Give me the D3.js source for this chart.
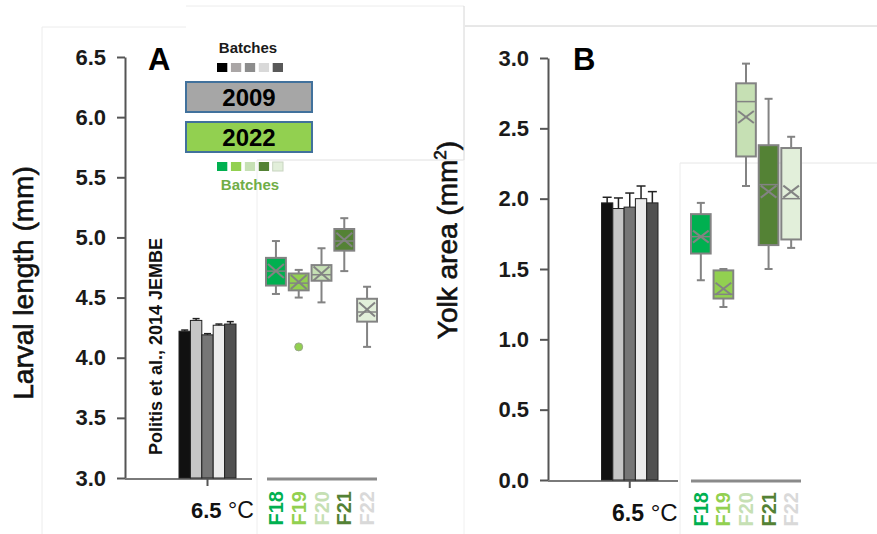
<!DOCTYPE html>
<html>
<head>
<meta charset="utf-8">
<script src="https://cdn.jsdelivr.net/npm/d3@7"></script>
<style>
  body { margin: 0; background: #fff; }
  svg { display: block; font-family: "Liberation Sans", Arial, sans-serif; }
</style>
</head>
<body>
<div id="chart-area"></div>
<script>
// --- data -----------------------------------------------------------------
const batches = ['B1', 'B2', 'B3', 'B4', 'B5'];
const batchColors = ['#111111', '#c6c6c6', '#767676', '#ececec', '#515151'];
const batchLegend = ['#000000', '#aaa6a6', '#8c8c8c', '#d9d9d9', '#595959'];

const gens = ['F18', 'F19', 'F20', 'F21', 'F22'];
const genFill = ['#00b050', '#92d050', '#c6e0b4', '#548235', '#e2efda'];
const genText = ['#00b050', '#92d050', '#c6e0b4', '#548235', '#d9d9d9'];

// panel A : larval length (mm)
const lenTicks = [3.0, 3.5, 4.0, 4.5, 5.0, 5.5, 6.0, 6.5];
const lenBars = [4.22, 4.31, 4.19, 4.27, 4.28];
const lenBarErr = [0.01, 0.015, 0.01, 0.01, 0.02];
const lenMin = [4.53, 4.50, 4.46, 4.72, 4.09];
const lenQ1 = [4.60, 4.56, 4.64, 4.89, 4.30];
const lenMed = [4.72, 4.62, 4.69, 4.97, 4.38];
const lenQ3 = [4.83, 4.70, 4.77, 5.07, 4.49];
const lenMax = [4.97, 4.73, 4.91, 5.16, 4.59];
const lenMean = [4.72, 4.63, 4.70, 4.98, 4.40];
const lenOutliers = [{ gen: 'F19', value: 4.09 }];

// panel B : yolk area (mm2)
const yolkTicks = [0.0, 0.5, 1.0, 1.5, 2.0, 2.5, 3.0];
const yolkBars = [1.97, 1.93, 1.94, 2.00, 1.97];
const yolkBarErr = [0.04, 0.075, 0.10, 0.09, 0.08];
const yolkMin = [1.42, 1.23, 2.09, 1.50, 1.65];
const yolkQ1 = [1.61, 1.29, 2.30, 1.67, 1.71];
const yolkMed = [1.73, 1.32, 2.69, 2.10, 2.00];
const yolkQ3 = [1.89, 1.49, 2.82, 2.38, 2.36];
const yolkMax = [1.97, 1.50, 2.96, 2.71, 2.44];
const yolkMean = [1.73, 1.36, 2.58, 2.05, 2.05];

const w = 877;
const h = 534;

const svg = d3.select('#chart-area')
  .append('svg')
  .attr('width', w)
  .attr('height', h);

// faint frames left over from the pasted screenshots
const frames = [
  [42, 27, 42, 534, '#ececec'], [42, 27, 186, 27, '#ececec'],
  [186, 6, 464, 6, '#ececec'], [464, 6, 464, 160, '#d6d6d6'],
  [257, 160, 464, 160, '#e0e0e0'], [257, 160, 257, 534, '#eeeeee'],
  [464, 160, 464, 534, '#f0f0f0'],
  [465, 26, 877, 26, '#d0d0d0'], [680, 163, 877, 163, '#e6e6e6'],
  [680, 163, 680, 534, '#ececec']
];
svg.selectAll('line.frame')
  .data(frames)
  .enter()
  .append('line')
  .attr('class', 'frame')
  .attr('x1', d => d[0]).attr('y1', d => d[1])
  .attr('x2', d => d[2]).attr('y2', d => d[3])
  .attr('stroke', d => d[4])
  .attr('stroke-width', 1);

function drawPanel(p) {
  const g = svg.append('g');
  const y = d3.scaleLinear().domain(p.yDomain).range(p.yRange);
  const xBar = d3.scaleBand().domain(batches).range(p.barRange);
  const xBox = d3.scaleBand().domain(gens).range(p.boxRange).paddingInner(0.04);
  const base = y(p.yDomain[0]);

  // y axis
  const yAxis = g.append('g')
    .attr('transform', 'translate(' + p.axisX + ',0)')
    .call(d3.axisLeft(y).tickValues(p.ticks).tickFormat(d3.format('.1f'))
      .tickSize(8).tickPadding(11).tickSizeOuter(0));
  yAxis.select('.domain').attr('stroke', '#555').attr('stroke-width', 2);
  yAxis.selectAll('.tick line').attr('stroke', '#555').attr('stroke-width', 2);
  yAxis.selectAll('.tick text')
    .attr('fill', '#1a1a1a')
    .style('font-size', '22px')
    .style('font-weight', 'bold');

  // x axis under the bars
  const xTemp = d3.scaleBand().domain(['6.5']).range(p.barRange);
  const tx = xTemp('6.5') + xTemp.bandwidth() / 2;
  g.append('line')
    .attr('x1', p.axisX).attr('x2', p.barAxisEnd)
    .attr('y1', base + 1).attr('y2', base + 1)
    .attr('stroke', '#7a7a7a').attr('stroke-width', 2);
  g.append('line')
    .attr('x1', tx).attr('x2', tx)
    .attr('y1', base + 1).attr('y2', base + 8)
    .attr('stroke', '#555').attr('stroke-width', 2);
  const tl = g.append('text')
    .attr('x', p.tempX).attr('y', p.tempY)
    .attr('fill', '#111')
    .style('font-size', p.tempSize + 'px');
  tl.append('tspan').style('font-weight', 'bold').text('6.5');
  tl.append('tspan').style('font-size', (p.tempSize + 1) + 'px').text(' \u00b0C');

  // bars
  g.selectAll('rect.bar')
    .data(p.bars)
    .enter()
    .append('rect')
    .attr('class', 'bar')
    .attr('x', (d, i) => xBar(batches[i]))
    .attr('y', d => y(d))
    .attr('width', xBar.bandwidth())
    .attr('height', d => base - y(d))
    .attr('fill', (d, i) => batchColors[i])
    .attr('stroke', '#222')
    .attr('stroke-width', 1);

  // error bars
  const cx = i => xBar(batches[i]) + xBar.bandwidth() / 2;
  g.selectAll('line.err')
    .data(p.bars)
    .enter()
    .append('line')
    .attr('x1', (d, i) => cx(i)).attr('x2', (d, i) => cx(i))
    .attr('y1', d => y(d))
    .attr('y2', (d, i) => y(d + p.barErr[i]))
    .attr('stroke', '#222').attr('stroke-width', 1.5);
  g.selectAll('line.cap')
    .data(p.bars)
    .enter()
    .append('line')
    .attr('x1', (d, i) => cx(i) - p.capW).attr('x2', (d, i) => cx(i) + p.capW)
    .attr('y1', (d, i) => y(d + p.barErr[i]))
    .attr('y2', (d, i) => y(d + p.barErr[i]))
    .attr('stroke', '#222').attr('stroke-width', 1.5);

  // box plot x axis
  g.append('line')
    .attr('x1', p.boxAxis[0]).attr('x2', p.boxAxis[1])
    .attr('y1', base + 1).attr('y2', base + 1)
    .attr('stroke', '#8a8a8a').attr('stroke-width', 3);

  const bw = xBox.bandwidth();
  const stroke = '#838383';
  const box = g.selectAll('g.box')
    .data(gens)
    .enter()
    .append('g')
    .attr('class', 'box')
    .attr('transform', d => 'translate(' + (xBox(d) + bw / 2) + ',0)');

  box.append('line')
    .attr('y1', (d, i) => y(p.max[i])).attr('y2', (d, i) => y(p.min[i]))
    .attr('stroke', stroke).attr('stroke-width', 2);
  [p.max, p.min].forEach(arr => {
    box.append('line')
      .attr('x1', -4).attr('x2', 4)
      .attr('y1', (d, i) => y(arr[i])).attr('y2', (d, i) => y(arr[i]))
      .attr('stroke', stroke).attr('stroke-width', 2);
  });
  box.append('rect')
    .attr('x', -bw / 2 + 1)
    .attr('y', (d, i) => y(p.q3[i]))
    .attr('width', bw - 2)
    .attr('height', (d, i) => y(p.q1[i]) - y(p.q3[i]))
    .attr('fill', (d, i) => genFill[i])
    .attr('stroke', stroke).attr('stroke-width', 2);
  box.append('line')
    .attr('x1', -bw / 2 + 1).attr('x2', bw / 2 - 1)
    .attr('y1', (d, i) => y(p.med[i])).attr('y2', (d, i) => y(p.med[i]))
    .attr('stroke', stroke).attr('stroke-width', 1.5);
  const xw = bw / 2 - 3;
  const xh = p.xMarkH;
  [1, -1].forEach(s => {
    box.append('line')
      .attr('x1', -xw).attr('x2', xw)
      .attr('y1', (d, i) => y(p.mean[i]) - s * xh)
      .attr('y2', (d, i) => y(p.mean[i]) + s * xh)
      .attr('stroke', stroke).attr('stroke-width', 2);
  });

  // outliers
  g.selectAll('circle.out')
    .data(p.outliers)
    .enter()
    .append('circle')
    .attr('cx', d => xBox(d.gen) + bw / 2)
    .attr('cy', d => y(d.value))
    .attr('r', 4)
    .attr('fill', d => genFill[gens.indexOf(d.gen)])
    .attr('stroke', '#9aa88a').attr('stroke-width', 1);

  // generation labels
  g.selectAll('text.gen')
    .data(gens)
    .enter()
    .append('text')
    .attr('class', 'gen')
    .attr('transform', d => 'translate(' + (xBox(d) + bw / 2 + 7) + ',' + p.genTop + ') rotate(-90)')
    .attr('text-anchor', 'end')
    .attr('fill', (d, i) => genText[i])
    .style('font-size', '20px')
    .style('font-weight', 'bold')
    .text(d => d);

  // panel letter
  g.append('text')
    .attr('x', p.letterX).attr('y', 70)
    .style('font-size', '31px').style('font-weight', 'bold')
    .attr('fill', '#000')
    .text(p.letter);

  return g;
}

const gA = drawPanel({
  yDomain: [3, 6.5], yRange: [478, 57], ticks: lenTicks, axisX: 125,
  barRange: [179, 236], boxRange: [265, 378], barAxisEnd: 252, boxAxis: [267, 377],
  bars: lenBars, barErr: lenBarErr, capW: 3.5,
  min: lenMin, q1: lenQ1, med: lenMed, q3: lenQ3, max: lenMax, mean: lenMean,
  outliers: lenOutliers, xMarkH: 7,
  tempX: 191, tempY: 518, tempSize: 22, genTop: 491,
  letter: 'A', letterX: 148
});

const gB = drawPanel({
  yDomain: [0, 3], yRange: [480, 58], ticks: yolkTicks, axisX: 548,
  barRange: [601.5, 658], boxRange: [690, 802], barAxisEnd: 678, boxAxis: [691, 801],
  bars: yolkBars, barErr: yolkBarErr, capW: 4.5,
  min: yolkMin, q1: yolkQ1, med: yolkMed, q3: yolkQ3, max: yolkMax, mean: yolkMean,
  outliers: [], xMarkH: 6,
  tempX: 612, tempY: 521, tempSize: 23, genTop: 492,
  letter: 'B', letterX: 573
});

// y titles
svg.append('text')
  .attr('transform', 'translate(33,283) rotate(-90)')
  .attr('text-anchor', 'middle')
  .attr('fill', '#111')
  .attr('stroke', '#111').attr('stroke-width', 0.6)
  .style('font-size', '28px')
  .text('Larval length (mm)');

const yt = svg.append('text')
  .attr('transform', 'translate(457,240) rotate(-90)')
  .attr('text-anchor', 'middle')
  .attr('fill', '#111')
  .attr('stroke', '#111').attr('stroke-width', 0.6)
  .style('font-size', '28px');
yt.append('tspan').text('Yolk area (mm');
yt.append('tspan').attr('dy', -11).style('font-size', '17px').text('2');
yt.append('tspan').attr('dy', 11).text(')');

svg.append('text')
  .attr('transform', 'translate(162,455) rotate(-90)')
  .attr('fill', '#111')
  .style('font-size', '18px')
  .style('font-weight', 'bold')
  .text('Politis et al., 2014 JEMBE');

// legend
const legX = d3.scaleBand().domain(batches).range([217, 283]).paddingInner(0.26);
svg.append('text')
  .attr('x', 248).attr('y', 53)
  .attr('text-anchor', 'middle')
  .attr('fill', '#1a1a1a')
  .style('font-size', '15px').style('font-weight', 'bold')
  .text('Batches');
svg.selectAll('rect.legGrey')
  .data(batches)
  .enter()
  .append('rect')
  .attr('class', 'legGrey')
  .attr('x', d => legX(d)).attr('y', 63)
  .attr('width', legX.bandwidth()).attr('height', 9)
  .attr('fill', (d, i) => batchLegend[i]);

const years = [{ label: '2009', fill: '#a6a6a6', y: 82 }, { label: '2022', fill: '#92d050', y: 122 }];
svg.selectAll('rect.year')
  .data(years)
  .enter()
  .append('rect')
  .attr('class', 'year')
  .attr('x', 186).attr('y', d => d.y)
  .attr('width', 126).attr('height', 30)
  .attr('fill', d => d.fill)
  .attr('stroke', '#41719c').attr('stroke-width', 2);
svg.selectAll('text.year')
  .data(years)
  .enter()
  .append('text')
  .attr('class', 'year')
  .attr('x', 249).attr('y', d => d.y + 24)
  .attr('text-anchor', 'middle')
  .attr('fill', '#000')
  .style('font-size', '24px').style('font-weight', 'bold')
  .text(d => d.label);

svg.selectAll('rect.legGreen')
  .data(gens)
  .enter()
  .append('rect')
  .attr('class', 'legGreen')
  .attr('x', (d, i) => legX(batches[i])).attr('y', 162)
  .attr('width', legX.bandwidth()).attr('height', 9)
  .attr('fill', (d, i) => genFill[i])
  .attr('stroke', (d, i) => i === 4 ? '#c8d4c0' : 'none');
svg.append('text')
  .attr('x', 250).attr('y', 190)
  .attr('text-anchor', 'middle')
  .attr('fill', '#70ad47')
  .style('font-size', '15px').style('font-weight', 'bold')
  .text('Batches');
</script>
</body>
</html>
